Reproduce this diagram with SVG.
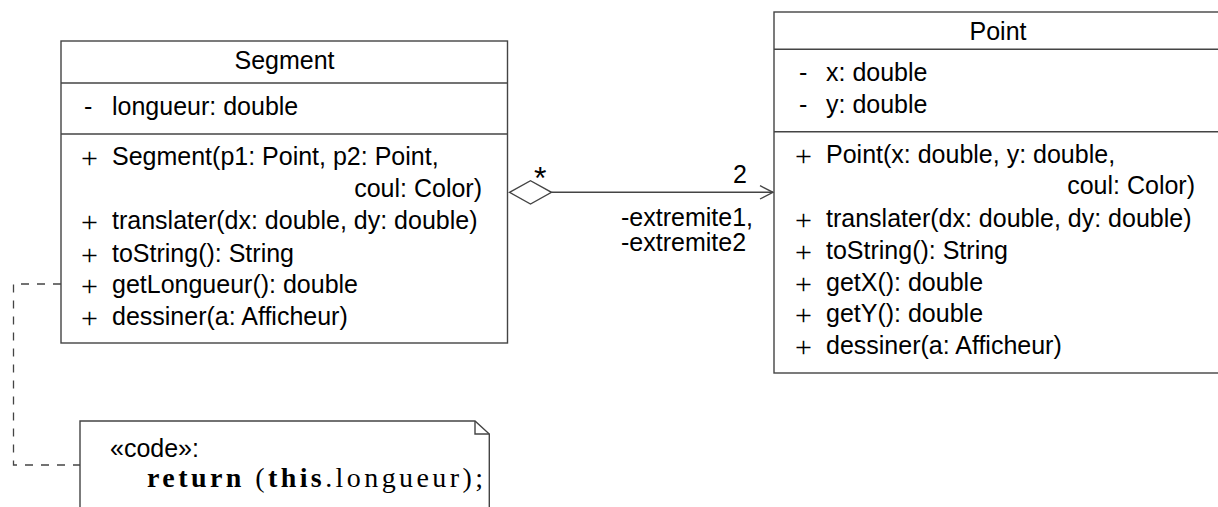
<svg xmlns="http://www.w3.org/2000/svg" width="1218" height="507" viewBox="0 0 1218 507">
<style>
.box{fill:#fff;stroke:#444;stroke-width:1.4}
.ln{stroke:#444;stroke-width:1.4;fill:none}
.t{font-family:"Liberation Sans",Arial,sans-serif;font-size:25px;fill:#000}
.m{text-anchor:middle}
.e{text-anchor:end}
.p{font-family:"Liberation Serif","Times New Roman",serif;font-size:30px;fill:#000}
.code{font-family:"Liberation Serif","Times New Roman",serif;font-size:28px;fill:#000}
.dash{stroke:#444;stroke-width:1.3;fill:none;stroke-dasharray:8 8}
</style>
<rect width="1218" height="507" fill="#fff"/>
<g id="connectors">
<polyline class="dash" points="61,284 13.5,284 13.5,465 80,465"/>
<line class="ln" x1="551.5" y1="192.3" x2="773" y2="192.3"/>
<polygon class="ln" points="509.5,192.3 530.5,180.7 551.5,192.3 530.5,204"/>
<polyline class="ln" points="760,185.7 773,192.3 760,199"/>
<text class="t" x="534" y="189" style="font-size:32px">*</text>
<text class="t e" x="747" y="183">2</text>
<text class="t" x="621" y="226">-extremite1,</text>
<text class="t" x="621" y="251">-extremite2</text>
</g>
<g id="Segment">
<rect class="box" x="61" y="41" width="446.5" height="302"/>
<line class="ln" x1="61" y1="83" x2="507.5" y2="83"/>
<line class="ln" x1="61" y1="134" x2="507.5" y2="134"/>
<text class="t m" x="284.5" y="69">Segment</text>
<text class="t" x="84" y="115">-</text>
<text class="t" x="112" y="115">longueur: double</text>
<text class="p" x="81" y="167.5">+</text>
<text class="t" x="112" y="165">Segment(p1: Point, p2: Point,</text>
<text class="t e" x="482" y="197">coul: Color)</text>
<text class="p" x="81" y="231.5">+</text>
<text class="t" x="112" y="229">translater(dx: double, dy: double)</text>
<text class="p" x="81" y="264.5">+</text>
<text class="t" x="112" y="262">toString(): String</text>
<text class="p" x="81" y="295.5">+</text>
<text class="t" x="112" y="293">getLongueur(): double</text>
<text class="p" x="81" y="327.5">+</text>
<text class="t" x="112" y="325">dessiner(a: Afficheur)</text>
</g>
<g id="Point">
<rect class="box" x="774" y="12" width="460" height="361"/>
<line class="ln" x1="774" y1="49.3" x2="1218" y2="49.3"/>
<line class="ln" x1="774" y1="131.7" x2="1218" y2="131.7"/>
<text class="t m" x="998" y="40">Point</text>
<text class="t" x="799" y="81">-</text>
<text class="t" x="826" y="81">x: double</text>
<text class="t" x="799" y="112.5">-</text>
<text class="t" x="826" y="112.5">y: double</text>
<text class="p" x="795" y="165.5">+</text>
<text class="t" x="826" y="163">Point(x: double, y: double,</text>
<text class="t e" x="1195" y="194">coul: Color)</text>
<text class="p" x="795" y="229.5">+</text>
<text class="t" x="826" y="227">translater(dx: double, dy: double)</text>
<text class="p" x="795" y="261.5">+</text>
<text class="t" x="826" y="259">toString(): String</text>
<text class="p" x="795" y="293.5">+</text>
<text class="t" x="826" y="291">getX(): double</text>
<text class="p" x="795" y="324.5">+</text>
<text class="t" x="826" y="322">getY(): double</text>
<text class="p" x="795" y="356.5">+</text>
<text class="t" x="826" y="354">dessiner(a: Afficheur)</text>
</g>
<g id="note">
<path class="box" d="M80,520 L80,421 L475,421 L489.3,434 L489.3,520 Z"/>
<polyline class="ln" points="475,421 475,434 489.3,434"/>
<text class="t" x="110" y="457">«code»:</text>
<text class="code" x="147" y="487" textLength="336" lengthAdjust="spacing"><tspan font-weight="bold">return</tspan> (<tspan font-weight="bold">this</tspan>.longueur);</text>
</g>
</svg>
